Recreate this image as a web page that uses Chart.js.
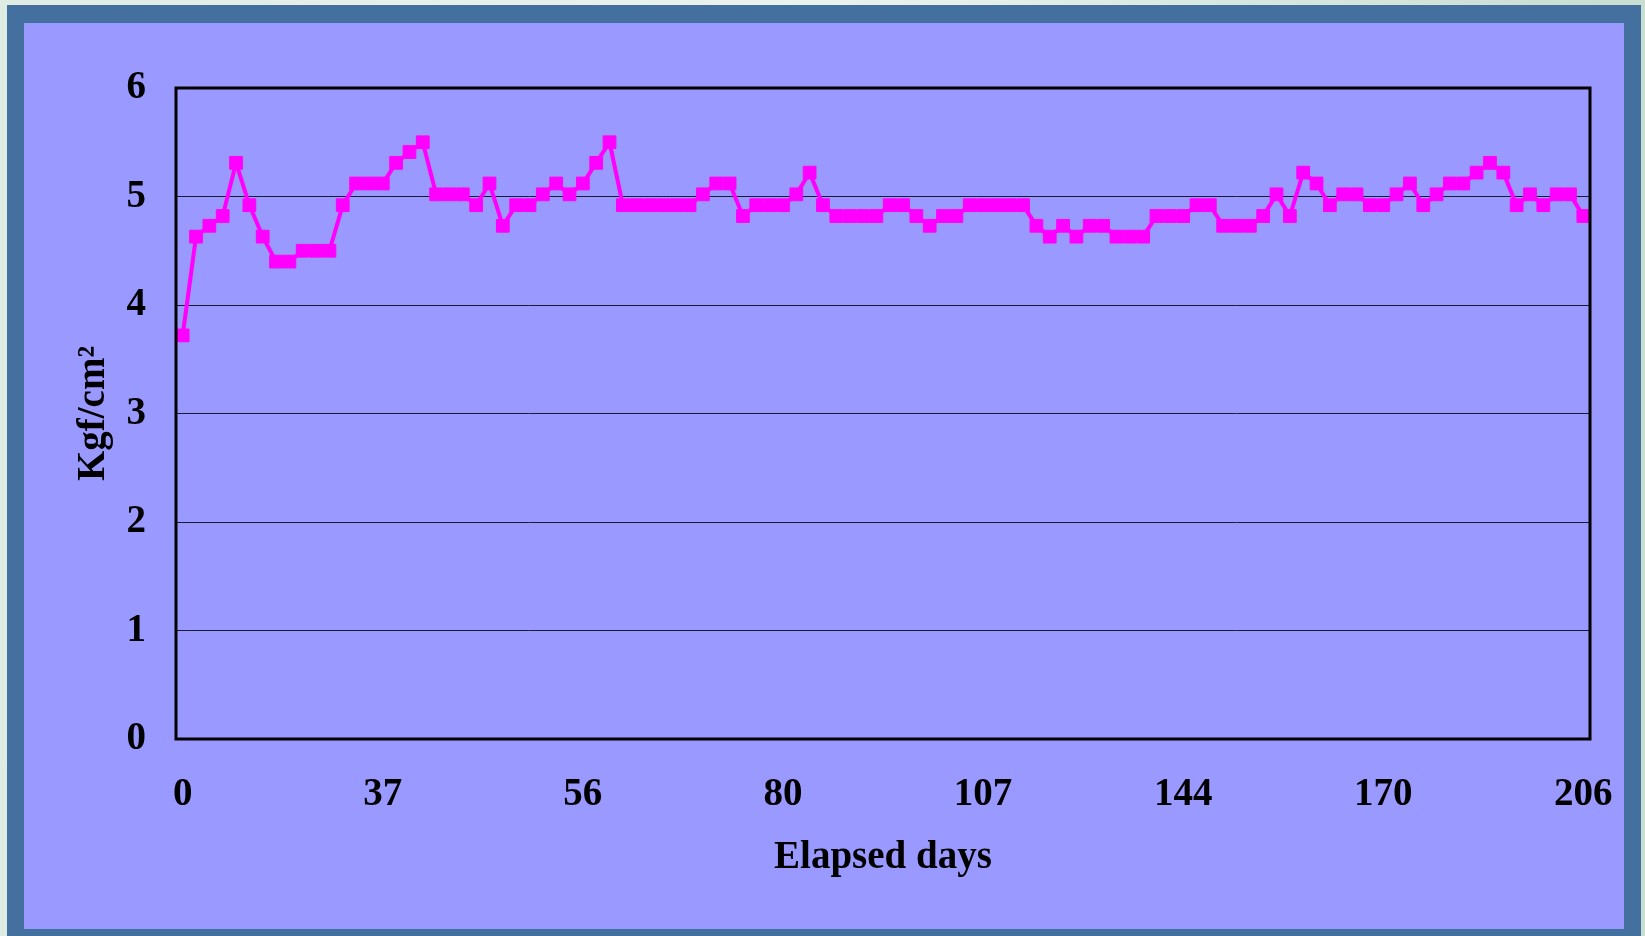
<!DOCTYPE html>
<html>
<head>
<meta charset="utf-8">
<title>Elapsed days</title>
<style>
  body { margin: 0; width: 1645px; height: 936px; overflow: hidden;
         background: linear-gradient(90deg, #dfece3, #e9f3ec 50%, #c9ddd1); }
  #frame { position: absolute; left: 7px; top: 5px; width: 1634px; height: 931px; background: #44709f; }
  #chart { position: absolute; left: 24px; top: 23px; background: #9999ff; }
</style>
</head>
<body>
<div id="frame"></div>
<canvas id="chart" width="1600" height="906"></canvas>
<script src="https://cdn.jsdelivr.net/npm/chart.js@4.4.0/dist/chart.umd.min.js"></script>
<script>
// shown day labels, one every 15 readings
const dayTicks = [0, 37, 56, 80, 107, 144, 170, 206];
const tickEvery = 15;

// Kgf/cm2 readings
const strength = [
  3.72, 4.63, 4.73, 4.82, 5.31, 4.92, 4.63, 4.40, 4.40, 4.50, 4.50, 4.50, 4.92, 5.12, 5.12, 5.12, 5.31, 5.41, 5.50,
  5.02, 5.02, 5.02, 4.92, 5.12, 4.73, 4.92, 4.92, 5.02, 5.12, 5.02, 5.12, 5.31, 5.50, 4.92, 4.92, 4.92, 4.92,
  4.92, 4.92, 5.02, 5.12, 5.12, 4.82, 4.92, 4.92, 4.92, 5.02, 5.22, 4.92, 4.82, 4.82, 4.82, 4.82, 4.92, 4.92,
  4.82, 4.73, 4.82, 4.82, 4.92, 4.92, 4.92, 4.92, 4.92, 4.73, 4.63, 4.73, 4.63, 4.73, 4.73, 4.63, 4.63, 4.63,
  4.82, 4.82, 4.82, 4.92, 4.92, 4.73, 4.73, 4.73, 4.82, 5.02, 4.82, 5.22, 5.12, 4.92, 5.02, 5.02, 4.92, 4.92,
  5.02, 5.12, 4.92, 5.02, 5.12, 5.12, 5.22, 5.31, 5.22, 4.92, 5.02, 4.92, 5.02, 5.02, 4.82
];

const labels = strength.map((v, i) => i % tickEvery === 0 ? String(dayTicks[i / tickEvery]) : '');

const font = { family: "'Liberation Serif', 'Times New Roman', serif", weight: 'bold', size: 39 };

// black frame round the plot area
const plotFrame = {
  id: 'plotFrame',
  afterDraw(chart) {
    const { ctx, chartArea: a } = chart;
    ctx.save();
    ctx.strokeStyle = '#000';
    ctx.lineWidth = 3;
    ctx.strokeRect(a.left, a.top, a.right - a.left, a.bottom - a.top);
    ctx.restore();
  }
};

new Chart(document.getElementById('chart'), {
  type: 'line',
  data: {
    labels: labels,
    datasets: [{
      data: strength,
      borderColor: '#ff00ff',
      backgroundColor: '#ff00ff',
      borderWidth: 4,
      pointStyle: 'rect',
      pointRadius: 9,
      pointBorderWidth: 1,
      tension: 0
    }]
  },
  options: {
    responsive: false,
    animation: false,
    layout: { padding: { left: 0, right: 34, top: 65, bottom: 0 } },
    plugins: { legend: { display: false }, tooltip: { enabled: false } },
    scales: {
      x: {
        offset: true,
        grid: { display: false },
        border: { display: false },
        ticks: { autoSkip: false, maxRotation: 0, color: '#000', font: font, padding: 25 },
        title: { display: true, text: 'Elapsed days', color: '#000', font: font, padding: { top: 0, bottom: 48 } },
        afterFit(scale) { scale.height = 190; scale.paddingLeft = 0; scale.paddingRight = 0; }
      },
      y: {
        min: 0,
        max: 6,
        ticks: { stepSize: 1, color: '#000', font: font, padding: 30 },
        grid: { color: '#1a1a33', lineWidth: 1, drawTicks: false },
        border: { display: false },
        title: { display: true, text: 'Kgf/cm²', color: '#000', font: font, padding: { top: 47, bottom: 0 } },
        afterFit(scale) { scale.width = 152; scale.paddingTop = 0; scale.paddingBottom = 0; }
      }
    }
  },
  plugins: [plotFrame]
});
</script>
</body>
</html>
